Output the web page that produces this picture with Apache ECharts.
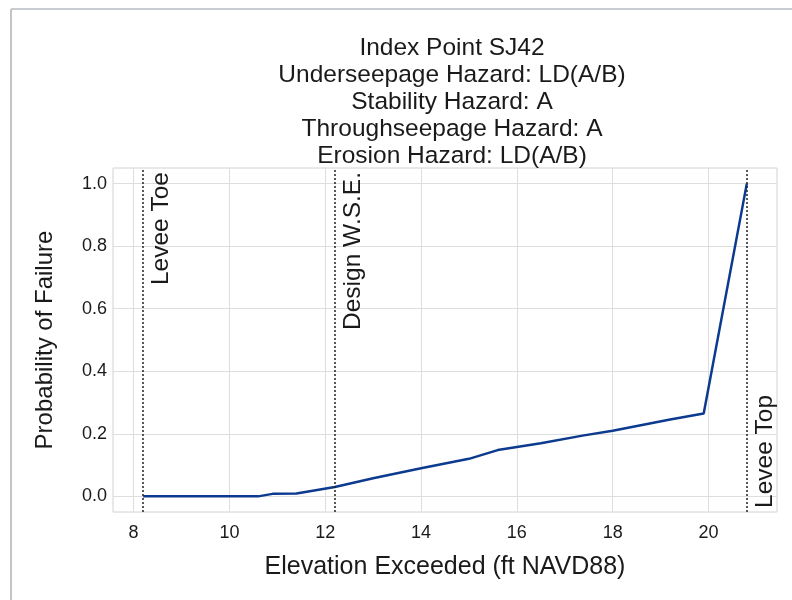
<!DOCTYPE html>
<html>
<head>
<meta charset="utf-8">
<script src="https://cdn.jsdelivr.net/npm/echarts@6/dist/echarts.min.js"></script>
<style>
  html, body { margin: 0; padding: 0; background: #fff; }
  #chart { width: 792px; height: 600px; }
</style>
</head>
<body>
<div id="chart"></div>
<script>
// Fragility curve: probability of failure vs. water surface elevation
const elevation = [8.2, 9.0, 10.0, 10.6, 10.9, 11.4, 12.2, 13.0, 14.0, 15.0, 15.6, 16.5, 17.4, 18.0, 19.2, 19.9, 20.8];
const probability = [0.0, 0.0, 0.0, 0.0, 0.008, 0.009, 0.03, 0.058, 0.09, 0.12, 0.148, 0.17, 0.195, 0.21, 0.246, 0.265, 1.0];

// Reference elevations drawn as dotted vertical lines
const refNames = ['Levee Toe', 'Design W.S.E.', 'Levee Top'];
const refElev = [8.2, 12.2, 20.8];

const xTicks = [8, 10, 12, 14, 16, 18, 20];
const yTicks = [0.0, 0.2, 0.4, 0.6, 0.8, 1.0];

const titleLines = [
  'Index Point SJ42',
  'Underseepage Hazard: LD(A/B)',
  'Stability Hazard: A',
  'Throughseepage Hazard: A',
  'Erosion Hazard: LD(A/B)'
];

const FONT = '"Liberation Sans", Arial, sans-serif';
const INK = '#1a1a1a';

const chart = echarts.init(document.getElementById('chart'), null, { renderer: 'canvas' });

const refLabelPos = ['insideEndBottom', 'insideEndBottom', 'insideStartBottom'];

chart.setOption({
  animation: false,
  backgroundColor: '#ffffff',
  graphic: [
    { type: 'line', shape: { x1: 11, y1: 9, x2: 792, y2: 9 }, style: { stroke: '#c9cdd2', lineWidth: 2 } },
    { type: 'line', shape: { x1: 11, y1: 9, x2: 11, y2: 600 }, style: { stroke: '#c4c4c4', lineWidth: 2 } }
  ],
  title: {
    text: titleLines.join('\n'),
    left: 447,
    top: 30,
    textAlign: 'center',
    textStyle: { fontFamily: FONT, fontSize: 24.5, fontWeight: 'normal', color: INK, lineHeight: 27 }
  },
  grid: {
    left: 113, right: 15, top: 168, bottom: 88,
    show: true, borderColor: '#d2d2d2', borderWidth: 1
  },
  xAxis: {
    type: 'value',
    min: 7.57, max: 21.43,
    name: 'Elevation Exceeded (ft NAVD88)',
    nameLocation: 'middle',
    nameGap: 43,
    nameTextStyle: { fontFamily: FONT, fontSize: 25, color: INK },
    axisLine: { show: false },
    axisTick: { show: false, customValues: xTicks },
    axisLabel: { customValues: xTicks, fontFamily: FONT, fontSize: 18, color: INK, margin: 12,
                 formatter: v => String(v) },
    splitLine: { show: true, lineStyle: { color: '#dedede', width: 1 } }
  },
  yAxis: {
    type: 'value',
    min: -0.05, max: 1.05,
    name: 'Probability of Failure',
    nameLocation: 'middle',
    nameGap: 56,
    nameTextStyle: { fontFamily: FONT, fontSize: 24, color: INK },
    axisLine: { show: false },
    axisTick: { show: false, customValues: yTicks },
    axisLabel: { customValues: yTicks, fontFamily: FONT, fontSize: 18, color: INK, margin: 6,
                 formatter: v => v.toFixed(1) },
    splitLine: { show: true, lineStyle: { color: '#dedede', width: 1 } }
  },
  series: [{
    type: 'line',
    data: elevation.map((x, i) => [x, probability[i]]),
    showSymbol: false,
    lineStyle: { color: '#0b3a8f', width: 2.5 },
    markLine: {
      silent: true,
      symbol: ['none', 'none'],
      lineStyle: { type: [2, 2], color: '#222', width: 1.5 },
      data: refElev.map((x, i) => ({
        xAxis: x,
        label: {
          show: true,
          formatter: refNames[i],
          position: refLabelPos[i],
          distance: [4, 6],
          fontFamily: FONT, fontSize: 24.5, color: INK
        }
      }))
    }
  }]
});
</script>
</body>
</html>
